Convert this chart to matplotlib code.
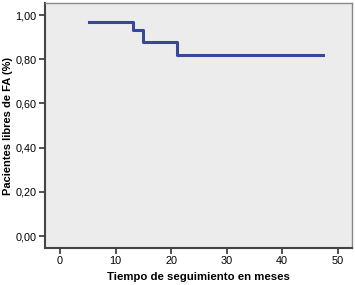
import matplotlib
matplotlib.use('Agg')
import matplotlib.pyplot as plt

# Kaplan-Meier steps
times = [5.2, 13.2, 15.0, 21.0, 47.4]
surv = [0.967, 0.933, 0.878, 0.819, 0.819]

x_ticks = [0, 10, 20, 30, 40, 50]
y_ticks = [0.0, 0.2, 0.4, 0.6, 0.8, 1.0]
y_labels = ['0,00', '0,20', '0,40', '0,60', '0,80', '1,00']

plt.rcParams['font.family'] = ['Liberation Sans', 'DejaVu Sans']

fig = plt.figure(figsize=(3.55, 2.85), dpi=100)
ax = fig.add_axes([0.127, 0.13, 0.865, 0.859])
ax.set_facecolor('#ececec')

ax.step(times, surv, where='post', color='#37479a', lw=2.2)

ax.set_xlim(-2.7, 52.6)
ax.set_ylim(-0.054, 1.054)
ax.set_xticks(x_ticks)
ax.set_yticks(y_ticks)
ax.set_yticklabels(y_labels)
ax.tick_params(labelsize=7.8, length=4, width=1.2, color='#333333', pad=2)

for s in ['top', 'right']:
    ax.spines[s].set_color('#888888')
    ax.spines[s].set_linewidth(1.0)
for s in ['left', 'bottom']:
    ax.spines[s].set_color('#444444')
    ax.spines[s].set_linewidth(1.5)

ax.set_xlabel('Tiempo de seguimiento en meses', fontsize=8.2, fontweight='bold', labelpad=4)
ax.set_ylabel('Pacientes libres de FA (%)', fontsize=8, fontweight='bold', labelpad=2)

fig.savefig('out.png', dpi=100)
